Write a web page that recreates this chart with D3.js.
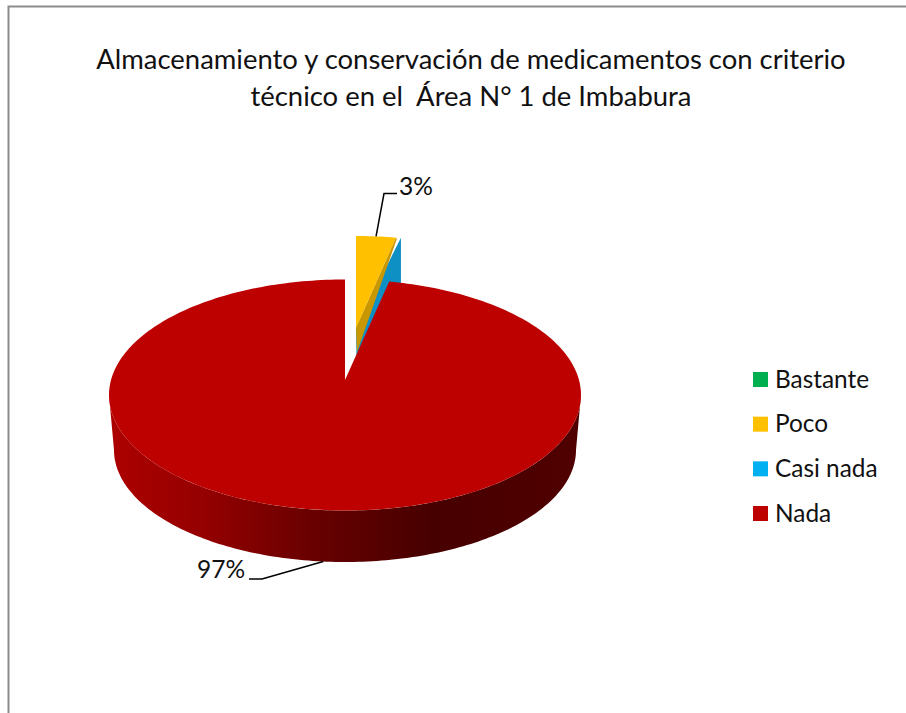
<!DOCTYPE html>
<html>
<head>
<meta charset="utf-8">
<script src="https://cdn.jsdelivr.net/npm/d3@7"></script>
<style>
  html, body { margin: 0; padding: 0; background: #fff; overflow: hidden; }
  text { font-family: Lato, "Open Sans", sans-serif; fill: #111; white-space: pre; }
</style>
</head>
<body>
<div id="chart"></div>
<script>
var categories = ["Bastante", "Poco", "Casi nada", "Nada"];
var values = [0, 3, 0, 97];
var labels = ["", "3%", "", "97%"];
var titleLines = ["Almacenamiento y conservación de medicamentos con criterio",
                  "técnico en el  Área N° 1 de Imbabura"];
var colors = ["#00b050", "#ffc000", "#00b0f0", "#bd0000"];

var width = 906, height = 713;

var svg = d3.select("#chart").append("svg")
    .attr("width", width)
    .attr("height", height);

//Chart frame, only the top and left edges fall inside the picture
svg.append("rect")
    .attr("x", 8.5).attr("y", 6.5)
    .attr("width", width + 20).attr("height", height + 20)
    .attr("fill", "none")
    .attr("stroke", "#8c8c8c")
    .attr("stroke-width", 2);

svg.selectAll(".title")
    .data(titleLines).enter().append("text")
    .attr("class", "title")
    .attr("x", 471)
    .attr("y", function(d, i) { return 69 + i * 37; })
    .attr("text-anchor", "middle")
    .attr("font-size", 27.45)
    .text(function(d) { return d; });

//Pie layout, angles run clockwise from the top and keep the data order
var pie = d3.pie().sort(null).value(function(d) { return d; }).startAngle(0).endAngle(2 * Math.PI);
var slices = pie(values);

//Ellipses of the tilted pie
var top3d = {cx: 345, cy: 395, rx: 236, ry: 115.5};
var bottom3d = {cx: 345, cy: 450, rx: 231, ry: 112};
var apex = [345, 380];
var pulledTop = {cx: 356, cy: 328, rx: 213, ry: 92};

function rim(e, a) {
    return [e.cx + e.rx * Math.sin(a), e.cy - e.ry * Math.cos(a)];
}

function arcPoints(e, a0, a1) {
    var n = Math.max(2, Math.ceil(Math.abs(a1 - a0) / 0.02));
    return d3.range(n + 1).map(function(i) {
        return rim(e, a0 + (a1 - a0) * i / n);
    });
}

var line = d3.line();

var defs = svg.append("defs");
var wallGradient = defs.append("linearGradient")
    .attr("id", "wall")
    .attr("gradientUnits", "userSpaceOnUse")
    .attr("x1", top3d.cx - top3d.rx).attr("x2", top3d.cx + top3d.rx)
    .attr("y1", 0).attr("y2", 0);
[[0, "#ad0000"], [0.2, "#950000"], [0.42, "#6a0000"], [0.68, "#470000"], [1, "#500000"]].forEach(function(s) {
    wallGradient.append("stop").attr("offset", s[0]).attr("stop-color", s[1]);
});

var poco = slices[1], casi = slices[2], nada = slices[3];

//Zero valued slice, only its wall shows behind the pulled slice
var casiRim = rim(pulledTop, casi.startAngle);
svg.append("path")
    .attr("d", line([[pulledTop.cx, pulledTop.cy],
                     [casiRim[0] + 5, casiRim[1]],
                     [casiRim[0] + 5, casiRim[1] + 60],
                     [pulledTop.cx + 1, pulledTop.cy + 60]]) + "Z")
    .attr("fill", "#0e90c4");

//Pulled slice wall and face
var pocoEnd = rim(pulledTop, poco.endAngle);
svg.append("path")
    .attr("d", line([[pulledTop.cx, pulledTop.cy],
                     pocoEnd,
                     [pocoEnd[0] + 1, pocoEnd[1] + 1],
                     [pulledTop.cx + 1, pulledTop.cy + 24]]) + "Z")
    .attr("fill", "#c99700");
svg.append("path")
    .attr("d", line([[pulledTop.cx, pulledTop.cy]].concat(arcPoints(pulledTop, poco.startAngle, poco.endAngle))) + "Z")
    .attr("fill", colors[1]);

//Front wall of the big slice, between the widest points of both ellipses
var wallTop = arcPoints(top3d, Math.PI / 2, 3 * Math.PI / 2);
var wallBottom = arcPoints(bottom3d, 3 * Math.PI / 2, Math.PI / 2);
svg.append("path")
    .attr("d", line(wallTop.concat(wallBottom)) + "Z")
    .attr("fill", "url(#wall)");

svg.append("path")
    .attr("d", line([apex].concat(arcPoints(top3d, nada.startAngle, nada.endAngle))) + "Z")
    .attr("fill", colors[3]);

//Data labels with leader lines from the middle of each slice
var pocoAnchor = rim(pulledTop, (poco.startAngle + poco.endAngle) / 2);
var nadaAnchor = rim(bottom3d, (nada.startAngle + nada.endAngle) / 2);

svg.append("path")
    .attr("d", line([pocoAnchor, [384, 193.5], [397, 193.5]]))
    .attr("fill", "none").attr("stroke", "#000").attr("stroke-width", 1.5);
svg.append("path")
    .attr("d", line([nadaAnchor, [262, 579], [249, 579]]))
    .attr("fill", "none").attr("stroke", "#000").attr("stroke-width", 1.5);

svg.append("text")
    .attr("x", 399).attr("y", 194.5)
    .attr("font-size", 24.5)
    .text(labels[1]);
svg.append("text")
    .attr("x", 197).attr("y", 578)
    .attr("font-size", 24.5)
    .text(labels[3]);

//Legend
var legendY = d3.scalePoint().domain(categories).range([379.5, 513.5]);

var legend = svg.selectAll(".legend")
    .data(categories).enter().append("g")
    .attr("class", "legend")
    .attr("transform", function(d) { return "translate(753," + legendY(d) + ")"; });

legend.append("rect")
    .attr("x", 0).attr("y", -7.5)
    .attr("width", 15).attr("height", 15)
    .attr("fill", function(d, i) { return colors[i]; });

legend.append("text")
    .attr("x", 22).attr("y", 8)
    .attr("font-size", 24.4)
    .text(function(d) { return d; });
</script>
</body>
</html>
